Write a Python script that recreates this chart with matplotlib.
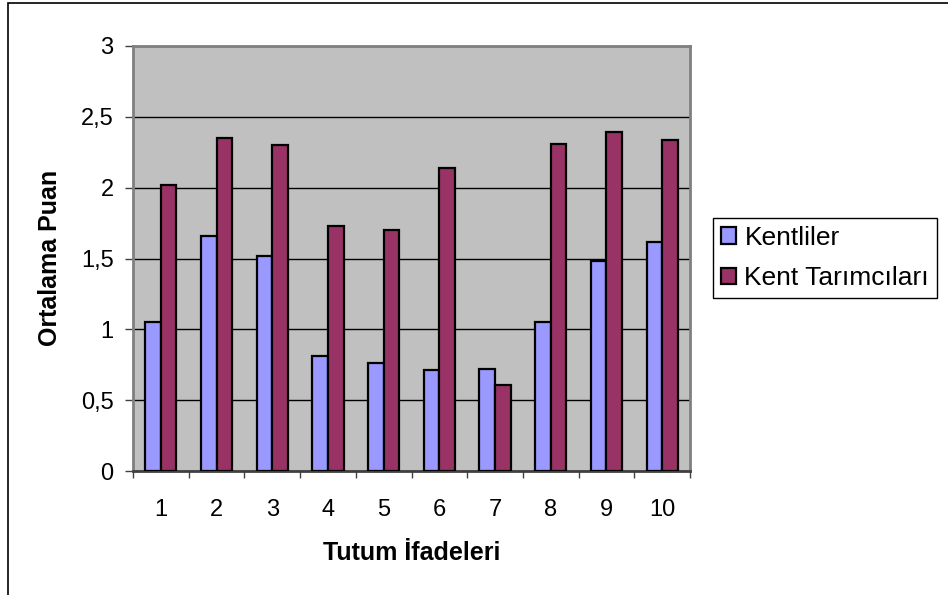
import numpy as np
import matplotlib.pyplot as plt
from matplotlib.patches import Rectangle

plt.rcParams['font.family'] = ['Liberation Sans', 'DejaVu Sans']

# Values
categories = ['1', '2', '3', '4', '5', '6', '7', '8', '9', '10']
kentliler = [1.05, 1.66, 1.52, 0.81, 0.76, 0.71, 0.72, 1.05, 1.48, 1.62]
kent_tarimcilari = [2.02, 2.35, 2.30, 1.73, 1.70, 2.14, 0.61, 2.31, 2.39, 2.34]
y_ticks = [0, 0.5, 1, 1.5, 2, 2.5, 3]
y_tick_labels = ['0', '0,5', '1', '1,5', '2', '2,5', '3']

W, H = 948, 595
fig = plt.figure(figsize=(W / 100, H / 100), dpi=100)
ax = fig.add_axes([133 / W, 1 - 471 / H, 557 / W, 425 / H])

# outer chart border (Excel chart area)
fig.patches.append(Rectangle((8 / W, -0.05), 1.2, 1 - 3 / H + 0.05,
                             transform=fig.transFigure, fill=False,
                             edgecolor='black', linewidth=1.2))

x = np.arange(len(categories))
w = 0.28
ax.set_facecolor('#C0C0C0')
ax.bar(x - w / 2, kentliler, w, color='#9999FF', edgecolor='black',
       linewidth=1.6, label='Kentliler', zorder=3)
ax.bar(x + w / 2, kent_tarimcilari, w, color='#993366', edgecolor='black',
       linewidth=1.6, label='Kent Tarımcıları', zorder=3)

ax.set_xlim(-0.5, len(categories) - 0.5)
ax.set_ylim(0, 3)
ax.set_yticks(y_ticks)
ax.set_yticklabels(y_tick_labels, fontsize=17)
ax.yaxis.grid(True, color='black', linewidth=1, zorder=1)
ax.set_axisbelow(True)

# ticks between categories, labels at category centres
ax.set_xticks(np.arange(-0.5, len(categories), 1.0))
ax.set_xticklabels([])
ax.set_xticks(x, minor=True)
ax.set_xticklabels(categories, minor=True, fontsize=17)
ax.tick_params(axis='x', which='minor', length=0, pad=20)
ax.tick_params(axis='x', which='major', length=5, width=1, color='#404040')
ax.tick_params(axis='y', length=5.5, width=1, color='#404040', pad=8.5)

for side in ['left', 'right', 'top', 'bottom']:
    ax.spines[side].set_color('#808080')
    ax.spines[side].set_linewidth(2)
ax.spines['bottom'].set_color('#404040')

fig.text(411.5 / W, 1 - 560 / H, 'Tutum İfadeleri', fontsize=18,
         fontweight='bold', ha='center', va='baseline')
fig.text(50 / W, 1 - 257.5 / H, 'Ortalama Puan', fontsize=18,
         fontweight='bold', ha='center', va='center', rotation=90)

leg = fig.legend(loc='upper left', bbox_to_anchor=(713 / W, 1 - 218 / H),
                 fontsize=19, frameon=True, fancybox=False, shadow=False,
                 edgecolor='black', framealpha=1, borderaxespad=0,
                 handlelength=0.6, handleheight=0.6, handletextpad=0.3,
                 borderpad=0.29, labelspacing=0.63)
leg.get_frame().set_linewidth(1)

fig.savefig('out.png', dpi=100)
